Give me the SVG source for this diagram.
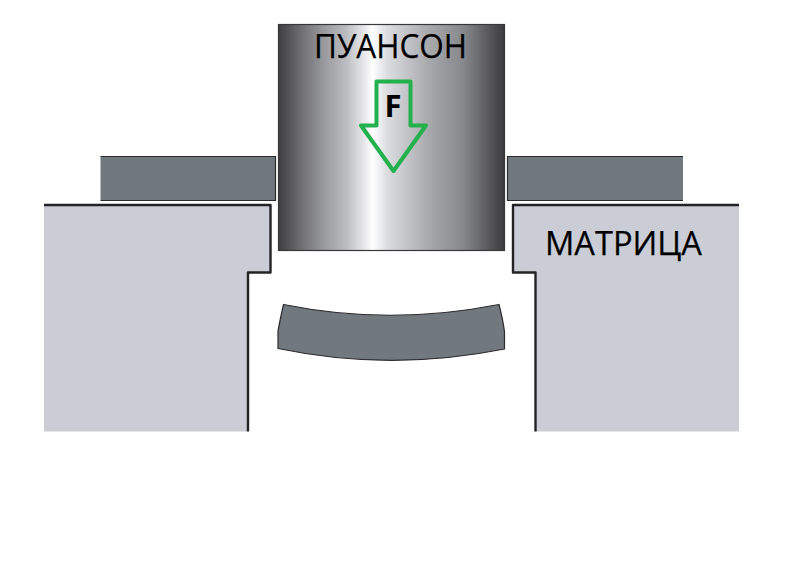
<svg xmlns="http://www.w3.org/2000/svg" width="789" height="580" viewBox="0 0 789 580">
<style>
.strip{fill:#71787e;stroke:#2b2b2e;stroke-width:1.2}
.die{fill:#cacdd5;stroke:none}
.edge{fill:none;stroke:#232326;stroke-width:2.4;stroke-linejoin:round}
.label{font-family:"Open Sans","Liberation Sans",sans-serif;font-size:33px;fill:#000000;stroke:#000000;stroke-width:0.25}
</style>
<defs>
<linearGradient id="steel" x1="0" x2="1" y1="0" y2="0">
<stop offset="0" stop-color="#3e3e40"/>
<stop offset="0.1" stop-color="#6f6f72"/>
<stop offset="0.2" stop-color="#98999d"/>
<stop offset="0.3" stop-color="#bcbdc1"/>
<stop offset="0.39" stop-color="#eeeef0"/>
<stop offset="0.415" stop-color="#ffffff"/>
<stop offset="0.48" stop-color="#dcdde0"/>
<stop offset="0.66" stop-color="#a9aaae"/>
<stop offset="0.82" stop-color="#86878b"/>
<stop offset="0.93" stop-color="#58585b"/>
<stop offset="1" stop-color="#3c3c3e"/>
</linearGradient>
</defs>
<rect width="789" height="580" fill="#ffffff"/>
<g id="strip-left"><path class="strip" fill-rule="evenodd" d="M100.500 156.500H275.500V200.500H100.500"/></g>
<g id="strip-right"><path class="strip" d="M683 156.500H507.500V200.500H683"/></g>
<g id="die-left">
<path class="die" d="M44 205H270.500V272.500H248V431.500H44Z"/>
<path class="edge" d="M44 205H270.500V272.500H248V431.500"/>
</g>
<g id="die-right">
<path class="die" d="M739 205H513V272.500H535.500V431.500H739Z"/>
<path class="edge" d="M739 205H513V272.500H535.500V431.500"/>
</g>
<g id="punch">
<rect x="278.500" y="24.500" width="226" height="226" fill="url(#steel)" stroke="#38383a" stroke-width="1.200"/>
<text class="label" x="314" y="58" textLength="153" lengthAdjust="spacingAndGlyphs">ПУАНСОН</text>
</g>
<g id="blank">
<path class="strip" d="M283.500 304.500Q390 326 499 304.500Q503 320 504.500 332V349Q390 372 278 348.500V331Q280 320 283.500 304.500Z"/>
</g>
<g id="force">
<path d="M376.500 81.500H410.500V125.500H426L393.500 171L361 125.500H376.500Z" fill="none" stroke="#22b14c" stroke-width="4" stroke-linejoin="round"/>
<text x="393" y="117" text-anchor="middle" font-family="'Open Sans','Liberation Sans',sans-serif" font-weight="700" font-size="31" fill="#000000">F</text>
</g>
<g id="die-label">
<text class="label" x="545" y="255" textLength="157" lengthAdjust="spacingAndGlyphs">МАТРИЦА</text>
</g>
</svg>
